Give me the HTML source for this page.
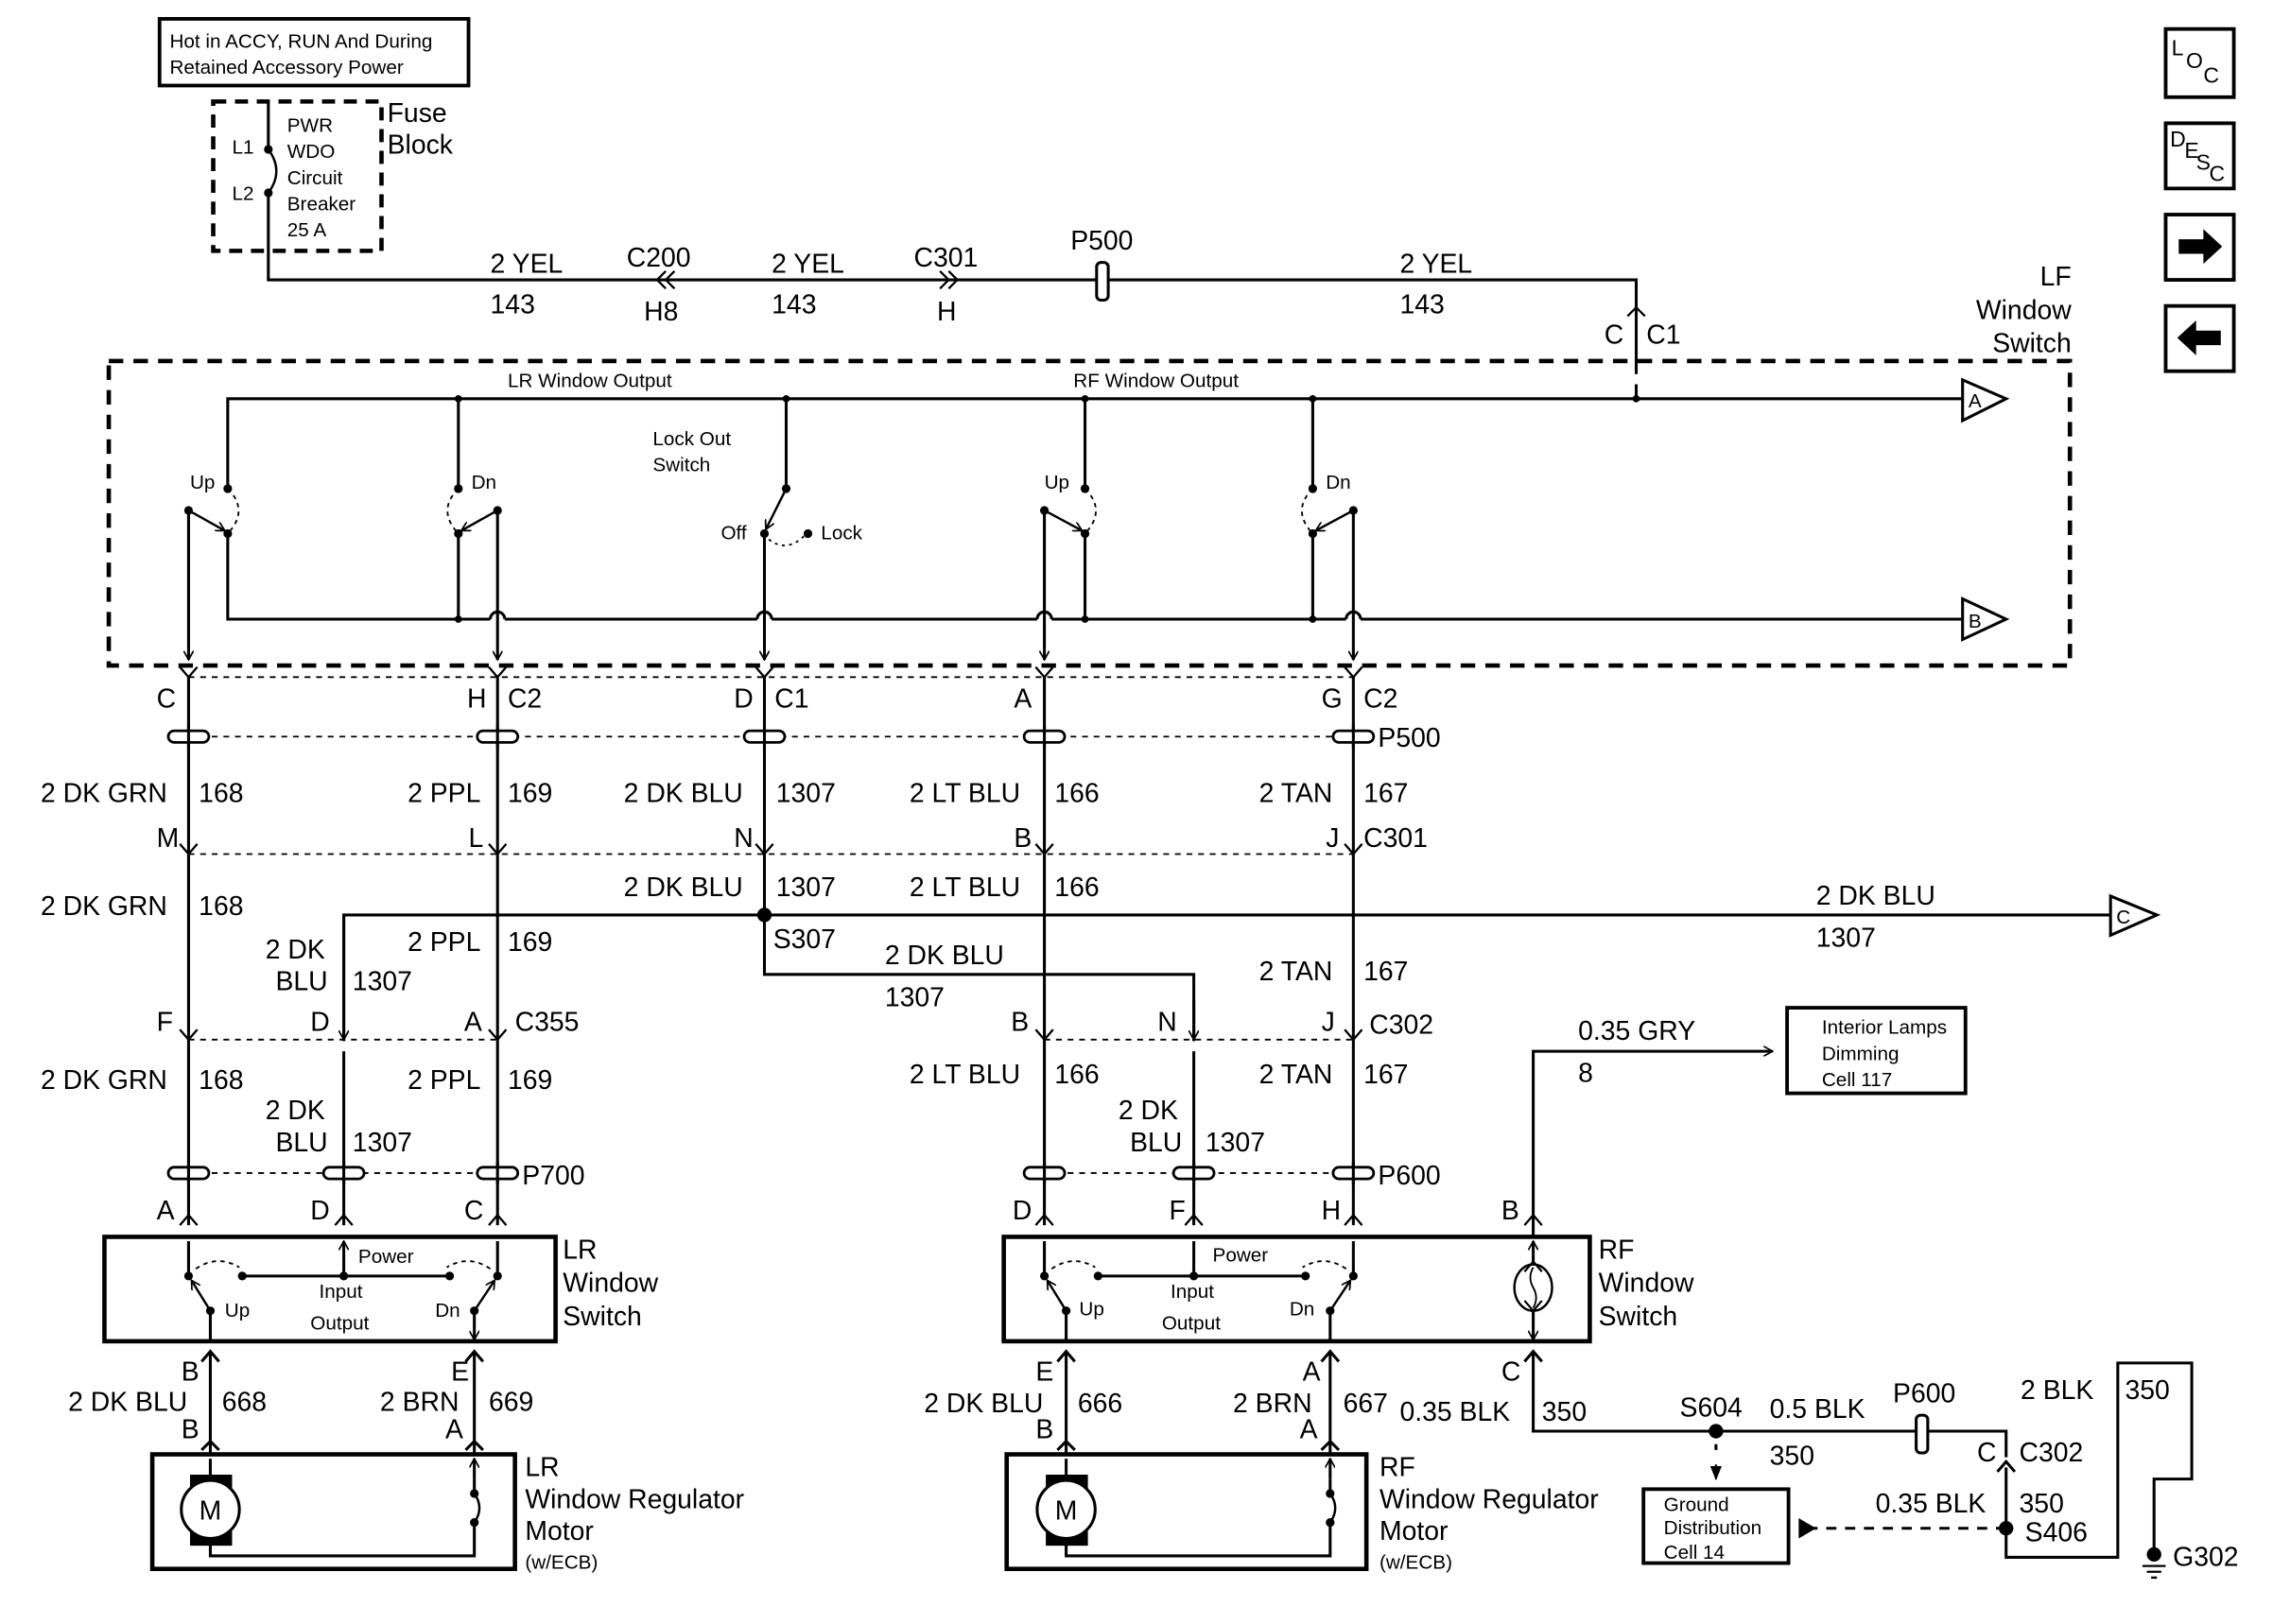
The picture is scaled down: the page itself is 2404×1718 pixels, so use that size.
<!DOCTYPE html>
<html><head><meta charset="utf-8"><style>
html,body{margin:0;padding:0;background:#fff;}
svg{display:block}
text{font-family:"Liberation Sans",Arial,sans-serif;fill:#000}
.w{font-size:18.5px}.s{font-size:13.5px}.m{font-size:15px}
</style></head><body>
<svg width="2404" height="1718" viewBox="0 0 1567 1120" preserveAspectRatio="none" xmlns="http://www.w3.org/2000/svg">
<defs>
<marker id="ar" viewBox="0 0 10 10" refX="9" refY="5" markerWidth="7" markerHeight="7" orient="auto-start-reverse" markerUnits="userSpaceOnUse"><path d="M0,0 L9,5 L0,10" fill="none" stroke="#000" stroke-width="1.6"/></marker>
<marker id="af" viewBox="0 0 10 10" refX="9" refY="5" markerWidth="10" markerHeight="10" orient="auto" markerUnits="userSpaceOnUse"><path d="M0,1 L10,5 L0,9z" fill="#000"/></marker>
</defs>
<g fill="none" stroke="#000" stroke-width="2">
<rect x="110" y="13" width="213" height="46" stroke-width="2.5"/>
<rect x="147" y="70" width="116" height="103" stroke-dasharray="9,6" stroke-width="3"/>
<path d="M185,70 V103 M185,133 V193 H1128 V258"/>
<path d="M185,103 Q196,118 185,133" stroke-width="1.6"/>
<path d="M459,187 L453,193 L459,199 M465,187 L459,193 L465,199" stroke-width="1.5"/>
<path d="M648,187 L654,193 L648,199 M654,187 L660,193 L654,199" stroke-width="1.5"/>
<rect x="756" y="181" width="8" height="26" rx="3" fill="#fff"/>
<path d="M1122,218 L1128,212 L1134,218" stroke-width="1.5"/>
<rect x="75" y="249" width="1352" height="210" stroke-dasharray="10,7" stroke-width="3"/>
<path d="M157,337 V275 H1353 M157,368 V427 H338 M348,427 H522 M532,427 H715 M725,427 H928 M938,427 H1353"/>
<path d="M338,427 a5,5 0 0 1 10,0 M522,427 a5,5 0 0 1 10,0 M715,427 a5,5 0 0 1 10,0 M928,427 a5,5 0 0 1 10,0"/>
<path d="M1128,265 V275"/>
<polygon points="1353,262 1383,275 1353,290" fill="#fff"/>
<polygon points="1353,413 1383,427 1353,441" fill="#fff"/>
<path d="M130,352 V455" marker-end="url(#ar)"/>
<path d="M130,352 L155,366" marker-end="url(#ar)" stroke-width="1.6"/>
<path d="M157,337 Q172,352 157,368" stroke-dasharray="3,3" stroke-width="1.2"/>
<path d="M316,275 V337 M316,368 V427"/>
<path d="M343,352 V455" marker-end="url(#ar)"/>
<path d="M343,352 L318,366" marker-end="url(#ar)" stroke-width="1.6"/>
<path d="M316,337 Q301,352 316,368" stroke-dasharray="3,3" stroke-width="1.2"/>
<path d="M542,275 V337"/>
<path d="M542,337 L528,365" marker-end="url(#ar)" stroke-width="1.6"/>
<path d="M527,368 V455" marker-end="url(#ar)"/>
<path d="M530,372 Q543,382 556,368" stroke-dasharray="2,3" stroke-width="1.2"/>
<path d="M748,275 V337 M748,368 V427"/>
<path d="M720,352 V455" marker-end="url(#ar)"/>
<path d="M720,352 L746,366" marker-end="url(#ar)" stroke-width="1.6"/>
<path d="M748,337 Q763,352 748,368" stroke-dasharray="3,3" stroke-width="1.2"/>
<path d="M905,275 V337 M905,368 V427"/>
<path d="M933,352 V455" marker-end="url(#ar)"/>
<path d="M933,352 L907,366" marker-end="url(#ar)" stroke-width="1.6"/>
<path d="M905,337 Q890,352 905,368" stroke-dasharray="3,3" stroke-width="1.2"/>
<path d="M130,467 H933 M130,508 H933 M130,589 H933 M130,717 H343 M720,717 H933 M130,809 H343 M720,809 H933" stroke-dasharray="4,4" stroke-width="1.2"/>
<path d="M130,467 V845 M343,467 V845 M527,467 V672 H823 V718 M720,467 V845 M933,467 V845"/>
<path d="M237,718 V631 H1455 M237,725 V845 M823,725 V845" />
<path d="M237,631 V717" marker-end="url(#ar)"/>
<path d="M823,690 V717" marker-end="url(#ar)"/>
<polygon points="1455,618 1487,631 1455,645" fill="#fff"/>
<path d="M124,460 L130,467 L136,460 M337,460 L343,467 L349,460 M521,460 L527,467 L533,460 M714,460 L720,467 L726,460 M927,460 L933,467 L939,460" stroke-width="1.5"/>
<path d="M124,582 L130,589 L136,582 M337,582 L343,589 L349,582 M521,582 L527,589 L533,582 M714,582 L720,589 L726,582 M927,582 L933,589 L939,582" stroke-width="1.5"/>
<path d="M124,710 L130,717 L136,710 M337,710 L343,717 L349,710 M714,710 L720,717 L726,710 M927,710 L933,717 L939,710" stroke-width="1.5"/>
<path d="M124,845 L130,838 L136,845 M231,845 L237,838 L243,845 M337,845 L343,838 L349,845 M714,845 L720,838 L726,845 M817,845 L823,838 L829,845 M927,845 L933,838 L939,845" stroke-width="1.5"/>
<g fill="#fff" stroke-width="1.8">
<rect x="116" y="504" width="28" height="8" rx="4"/><rect x="329" y="504" width="28" height="8" rx="4"/><rect x="513" y="504" width="28" height="8" rx="4"/><rect x="706" y="504" width="28" height="8" rx="4"/><rect x="919" y="504" width="28" height="8" rx="4"/>
<rect x="116" y="805" width="28" height="8" rx="4"/><rect x="223" y="805" width="28" height="8" rx="4"/><rect x="329" y="805" width="28" height="8" rx="4"/>
<rect x="706" y="805" width="28" height="8" rx="4"/><rect x="809" y="805" width="28" height="8" rx="4"/><rect x="919" y="805" width="28" height="8" rx="4"/>
</g>
<path d="M130,500 V516 M343,500 V516 M527,500 V516 M720,500 V516 M933,500 V516 M130,801 V817 M237,801 V817 M343,801 V817 M720,801 V817 M823,801 V817 M933,801 V817" stroke-width="2"/>
<rect x="72" y="853" width="311" height="72" stroke-width="3"/>
<path d="M130,880 V856 M343,880 V856 M237,880 V856" marker-end="url(#ar)"/>
<path d="M167,880 H310"/>
<path d="M145,904 L132,883" marker-end="url(#ar)" stroke-width="1.6"/>
<path d="M327,904 L341,883" marker-end="url(#ar)" stroke-width="1.6"/>
<path d="M145,904 V924 M327,904 V924" marker-end="url(#ar)"/>
<path d="M135,875 Q150,865 165,874 M338,875 Q323,865 308,874" stroke-dasharray="3,3" stroke-width="1.2"/>
<path d="M145,932 V1003 M327,932 V1003 M139,939 L145,932 L151,939 M321,939 L327,932 L333,939 M139,1000 L145,994 L151,1000 M321,1000 L327,994 L333,1000"/>
<rect x="105" y="1003" width="250" height="79" stroke-width="3"/>
<path d="M145,1020 V1006 M327,1020 V1006" marker-end="url(#ar)"/>
<rect x="132" y="1018" width="27" height="47" fill="#000"/>
<circle cx="145" cy="1041" r="20" fill="#fff"/>
<path d="M145,1064 V1073 H327 V1050 M327,1020 V1030"/>
<path d="M327,1030 Q334,1040 327,1050" stroke-width="1.6"/>
<rect x="692" y="853" width="404" height="72" stroke-width="3"/>
<path d="M720,880 V856 M933,880 V856 M823,880 V856 M1057,870 V856" marker-end="url(#ar)"/>
<path d="M757,880 H900"/>
<path d="M735,904 L722,883" marker-end="url(#ar)" stroke-width="1.6"/>
<path d="M917,904 L931,883" marker-end="url(#ar)" stroke-width="1.6"/>
<path d="M735,904 V924 M917,904 V924 M1057,904 V924" marker-end="url(#ar)"/>
<path d="M725,875 Q740,865 755,874 M928,875 Q913,865 898,874" stroke-dasharray="3,3" stroke-width="1.2"/>
<ellipse cx="1057" cy="888" rx="13" ry="16" stroke-width="1.6"/>
<path d="M1057,874 q-4,7 0,14 q4,7 0,14" stroke-width="1.2"/>
<path d="M1051,877 L1057,870 L1063,877 M1051,897 L1057,904 L1063,897" stroke-width="1.4"/>
<path d="M735,932 V1003 M917,932 V1003 M729,939 L735,932 L741,939 M911,939 L917,932 L923,939 M729,1000 L735,994 L741,1000 M911,1000 L917,994 L923,1000"/>
<rect x="694" y="1003" width="248" height="79" stroke-width="3"/>
<path d="M735,1020 V1006 M917,1020 V1006" marker-end="url(#ar)"/>
<rect x="722" y="1018" width="27" height="47" fill="#000"/>
<circle cx="735" cy="1041" r="20" fill="#fff"/>
<path d="M735,1064 V1073 H917 V1050 M917,1020 V1030"/>
<path d="M917,1030 Q924,1040 917,1050" stroke-width="1.6"/>
<path d="M1057,853 V725 H1222" marker-end="url(#ar)"/>
<path d="M1057,853 V845 M1051,845 L1057,838 L1063,845" stroke-width="1.5"/>
<rect x="1232" y="695" width="123" height="59" stroke-width="2.5"/>
<path d="M1057,932 V987 H1383 V1005 M1051,939 L1057,932 L1063,939"/>
<rect x="1321" y="976" width="8" height="26" rx="3" fill="#fff"/>
<path d="M1183,987 V1000" stroke-dasharray="5,4"/>
<path d="M1183,1010 V1020" marker-end="url(#af)" stroke-width="1.5"/>
<rect x="1133" y="1027" width="100" height="51" stroke-width="2.5"/>
<path d="M1377,1015 L1383,1008 L1389,1015 M1383,1012 V1074 H1460 V940 H1511 V1020 H1485 V1070"/>
<path d="M1383,1054 H1250" stroke-dasharray="7,6"/>
<polygon points="1240,1047 1252,1054 1240,1061" fill="#000" stroke-width="0"/>
<path d="M1477,1080 H1493 M1480,1084 H1490 M1483,1088 H1487" stroke-width="1.5"/>
<rect x="1493" y="20" width="47" height="47" stroke-width="2.5"/>
<rect x="1493" y="85" width="47" height="45" stroke-width="2.5"/>
<rect x="1493" y="148" width="47" height="45" stroke-width="2.5"/>
<rect x="1493" y="211" width="47" height="45" stroke-width="2.5"/>
</g>
<polygon points="1502,165 1519,165 1519,158 1532,170 1519,182 1519,175 1502,175" fill="#000"/>
<polygon points="1531,228 1514,228 1514,221 1501,233 1514,245 1514,238 1531,238" fill="#000"/>
<g fill="#000">
<circle cx="185" cy="103" r="3"/><circle cx="185" cy="133" r="3"/>
<circle cx="157" cy="337" r="3"/><circle cx="130" cy="352" r="3"/><circle cx="157" cy="368" r="3"/>
<circle cx="316" cy="275" r="2.5"/><circle cx="316" cy="337" r="3"/><circle cx="343" cy="352" r="3"/><circle cx="316" cy="368" r="3"/><circle cx="316" cy="427" r="2.5"/>
<circle cx="542" cy="275" r="2.5"/><circle cx="542" cy="337" r="3"/><circle cx="527" cy="368" r="3"/><circle cx="557" cy="368" r="3"/>
<circle cx="748" cy="275" r="2.5"/><circle cx="748" cy="337" r="3"/><circle cx="720" cy="352" r="3"/><circle cx="748" cy="368" r="3"/><circle cx="748" cy="427" r="2.5"/>
<circle cx="905" cy="275" r="2.5"/><circle cx="905" cy="337" r="3"/><circle cx="933" cy="352" r="3"/><circle cx="905" cy="368" r="3"/><circle cx="905" cy="427" r="2.5"/>
<circle cx="1128" cy="275" r="2.5"/>
<circle cx="527" cy="631" r="5"/>
<circle cx="130" cy="880" r="3"/><circle cx="167" cy="880" r="3"/><circle cx="237" cy="880" r="3"/><circle cx="310" cy="880" r="3"/><circle cx="343" cy="880" r="3"/><circle cx="145" cy="904" r="3"/><circle cx="327" cy="904" r="3"/>
<circle cx="720" cy="880" r="3"/><circle cx="757" cy="880" r="3"/><circle cx="823" cy="880" r="3"/><circle cx="900" cy="880" r="3"/><circle cx="933" cy="880" r="3"/><circle cx="735" cy="904" r="3"/><circle cx="917" cy="904" r="3"/>
<circle cx="327" cy="1030" r="3"/><circle cx="327" cy="1050" r="3"/><circle cx="917" cy="1030" r="3"/><circle cx="917" cy="1050" r="3"/>
<circle cx="1183" cy="987" r="5"/><circle cx="1383" cy="1054" r="5"/><circle cx="1485" cy="1072" r="5"/>
</g>
<text class="s" x="117" y="33">Hot in ACCY, RUN And During</text>
<text class="s" x="117" y="51">Retained Accessory Power</text>
<text class="s" x="160" y="106">L1</text><text class="s" x="160" y="138">L2</text>
<text class="s" x="198" y="91">PWR</text><text class="s" x="198" y="109">WDO</text><text class="s" x="198" y="127">Circuit</text><text class="s" x="198" y="145">Breaker</text><text class="s" x="198" y="163">25 A</text>
<text class="w" x="267" y="84">Fuse</text><text class="w" x="267" y="106">Block</text>
<text class="w" x="338" y="188">2 YEL</text><text class="w" x="338" y="216">143</text>
<text class="w" x="432" y="184">C200</text><text class="w" x="444" y="221">H8</text>
<text class="w" x="532" y="188">2 YEL</text><text class="w" x="532" y="216">143</text>
<text class="w" x="630" y="184">C301</text><text class="w" x="646" y="221">H</text>
<text class="w" x="738" y="172">P500</text>
<text class="w" x="965" y="188">2 YEL</text><text class="w" x="965" y="216">143</text>
<text class="w" x="1106" y="237">C</text><text class="w" x="1135" y="237">C1</text>
<text class="w" x="1428" y="197" text-anchor="end">LF</text><text class="w" x="1428" y="220" text-anchor="end">Window</text><text class="w" x="1428" y="243" text-anchor="end">Switch</text>
<text class="s" x="350" y="267">LR Window Output</text><text class="s" x="740" y="267">RF Window Output</text>
<text class="s" x="450" y="307">Lock Out</text><text class="s" x="450" y="325">Switch</text>
<text class="s" x="131" y="337">Up</text><text class="s" x="325" y="337">Dn</text>
<text class="s" x="497" y="372">Off</text><text class="s" x="566" y="372">Lock</text>
<text class="s" x="720" y="337">Up</text><text class="s" x="914" y="337">Dn</text>
<text class="s" x="1357" y="281">A</text><text class="s" x="1357" y="433">B</text><text class="s" x="1459" y="637">C</text>
<text class="w" x="108" y="488">C</text><text class="w" x="322" y="488">H</text><text class="w" x="350" y="488">C2</text><text class="w" x="506" y="488">D</text><text class="w" x="534" y="488">C1</text><text class="w" x="699" y="488">A</text><text class="w" x="911" y="488">G</text><text class="w" x="940" y="488">C2</text>
<text class="w" x="950" y="515">P500</text>
<text class="w" x="28" y="553">2 DK GRN</text><text class="w" x="137" y="553">168</text>
<text class="w" x="281" y="553">2 PPL</text><text class="w" x="350" y="553">169</text>
<text class="w" x="430" y="553">2 DK BLU</text><text class="w" x="535" y="553">1307</text>
<text class="w" x="627" y="553">2 LT BLU</text><text class="w" x="727" y="553">166</text>
<text class="w" x="868" y="553">2 TAN</text><text class="w" x="940" y="553">167</text>
<text class="w" x="108" y="584">M</text><text class="w" x="323" y="584">L</text><text class="w" x="506" y="584">N</text><text class="w" x="699" y="584">B</text><text class="w" x="914" y="584">J</text><text class="w" x="940" y="584">C301</text>
<text class="w" x="28" y="631">2 DK GRN</text><text class="w" x="137" y="631">168</text>
<text class="w" x="430" y="618">2 DK BLU</text><text class="w" x="535" y="618">1307</text>
<text class="w" x="627" y="618">2 LT BLU</text><text class="w" x="727" y="618">166</text>
<text class="w" x="1252" y="624">2 DK BLU</text><text class="w" x="1252" y="653">1307</text>
<text class="w" x="281" y="656">2 PPL</text><text class="w" x="350" y="656">169</text>
<text class="w" x="183" y="661">2 DK</text><text class="w" x="190" y="683">BLU</text><text class="w" x="243" y="683">1307</text>
<text class="w" x="533" y="654">S307</text>
<text class="w" x="610" y="665">2 DK BLU</text><text class="w" x="610" y="694">1307</text>
<text class="w" x="868" y="676">2 TAN</text><text class="w" x="940" y="676">167</text>
<text class="w" x="108" y="711">F</text><text class="w" x="214" y="711">D</text><text class="w" x="320" y="711">A</text><text class="w" x="355" y="711">C355</text>
<text class="w" x="697" y="711">B</text><text class="w" x="798" y="711">N</text><text class="w" x="911" y="711">J</text><text class="w" x="944" y="713">C302</text>
<text class="w" x="28" y="751">2 DK GRN</text><text class="w" x="137" y="751">168</text>
<text class="w" x="281" y="751">2 PPL</text><text class="w" x="350" y="751">169</text>
<text class="w" x="183" y="772">2 DK</text><text class="w" x="190" y="794">BLU</text><text class="w" x="243" y="794">1307</text>
<text class="w" x="627" y="747">2 LT BLU</text><text class="w" x="727" y="747">166</text>
<text class="w" x="868" y="747">2 TAN</text><text class="w" x="940" y="747">167</text>
<text class="w" x="771" y="772">2 DK</text><text class="w" x="779" y="794">BLU</text><text class="w" x="831" y="794">1307</text>
<text class="w" x="1088" y="717">0.35 GRY</text><text class="w" x="1088" y="746">8</text>
<text class="s" x="1256" y="713">Interior Lamps</text><text class="s" x="1256" y="731">Dimming</text><text class="s" x="1256" y="749">Cell 117</text>
<text class="w" x="360" y="817">P700</text><text class="w" x="950" y="817">P600</text>
<text class="w" x="108" y="841">A</text><text class="w" x="214" y="841">D</text><text class="w" x="320" y="841">C</text>
<text class="w" x="698" y="841">D</text><text class="w" x="806" y="841">F</text><text class="w" x="911" y="841">H</text><text class="w" x="1035" y="841">B</text>
<text class="s" x="247" y="871">Power</text><text class="s" x="220" y="895">Input</text><text class="s" x="214" y="917">Output</text><text class="s" x="155" y="908">Up</text><text class="s" x="300" y="908">Dn</text>
<text class="w" x="388" y="868">LR</text><text class="w" x="388" y="891">Window</text><text class="w" x="388" y="914">Switch</text>
<text class="s" x="836" y="870">Power</text><text class="s" x="807" y="895">Input</text><text class="s" x="801" y="917">Output</text><text class="s" x="744" y="907">Up</text><text class="s" x="889" y="907">Dn</text>
<text class="w" x="1102" y="868">RF</text><text class="w" x="1102" y="891">Window</text><text class="w" x="1102" y="914">Switch</text>
<text class="w" x="125" y="952">B</text><text class="w" x="311" y="952">E</text>
<text class="w" x="47" y="973">2 DK BLU</text><text class="w" x="153" y="973">668</text>
<text class="w" x="262" y="973">2 BRN</text><text class="w" x="337" y="973">669</text>
<text class="w" x="125" y="992">B</text><text class="w" x="307" y="992">A</text>
<text class="w" x="714" y="952">E</text><text class="w" x="898" y="952">A</text>
<text class="w" x="637" y="974">2 DK BLU</text><text class="w" x="743" y="974">666</text>
<text class="w" x="850" y="974">2 BRN</text><text class="w" x="926" y="974">667</text>
<text class="w" x="714" y="992">B</text><text class="w" x="896" y="992">A</text>
<text class="w" x="1035" y="952">C</text>
<text class="w" x="965" y="980">0.35 BLK</text><text class="w" x="1063" y="980">350</text>
<text class="w" x="1158" y="977">S604</text>
<text class="w" x="1220" y="978">0.5 BLK</text><text class="w" x="1220" y="1010">350</text>
<text class="w" x="1305" y="967">P600</text>
<text class="w" x="1363" y="1008">C</text><text class="w" x="1392" y="1008">C302</text>
<text class="w" x="1293" y="1043">0.35 BLK</text><text class="w" x="1392" y="1043">350</text><text class="w" x="1396" y="1063">S406</text>
<text class="w" x="1393" y="965">2 BLK</text><text class="w" x="1465" y="965">350</text>
<text class="w" x="1498" y="1080">G302</text>
<text class="s" x="1147" y="1042">Ground</text><text class="s" x="1147" y="1058">Distribution</text><text class="s" x="1147" y="1075">Cell 14</text>
<text class="w" x="145" y="1048" text-anchor="middle">M</text><text class="w" x="735" y="1048" text-anchor="middle">M</text>
<text class="w" x="362" y="1018">LR</text><text class="w" x="362" y="1040">Window Regulator</text><text class="w" x="362" y="1062">Motor</text><text class="s" x="362" y="1082">(w/ECB)</text>
<text class="w" x="951" y="1018">RF</text><text class="w" x="951" y="1040">Window Regulator</text><text class="w" x="951" y="1062">Motor</text><text class="s" x="951" y="1082">(w/ECB)</text>
<text class="m" x="1497" y="38">L</text><text class="m" x="1507" y="47">O</text><text class="m" x="1519" y="57">C</text>
<text class="m" x="1496" y="101">D</text><text class="m" x="1506" y="109">E</text><text class="m" x="1514" y="117">S</text><text class="m" x="1523" y="125">C</text>
</svg>
</body></html>
